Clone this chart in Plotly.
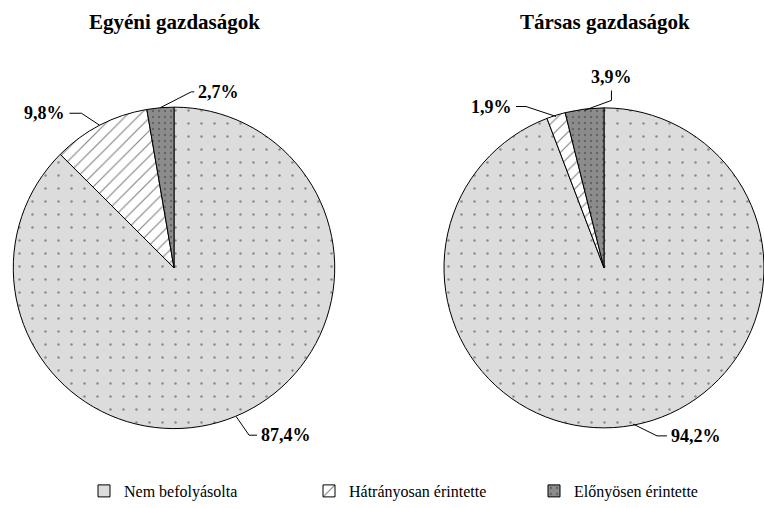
import math
import plotly.graph_objects as go

W, H = 764, 508

# ---- data ----
categories = ["Nem befolyásolta", "Hátrányosan érintette", "Előnyösen érintette"]
egyeni_values = [87.4, 9.8, 2.7]
tarsas_values = [94.2, 1.9, 3.9]
egyeni_text = ["87,4%", "9,8%", "2,7%"]
tarsas_text = ["94,2%", "1,9%", "3,9%"]
titles = ["Egyéni gazdaságok", "Társas gazdaságok"]

# ---- style ----
fill_colors = ["#dcdcdc", "#ffffff", "#8c8c8c"]
pattern = dict(
    shape=[".", "/", "."],
    fgcolor=["#3a3a3a", "#000000", "#3a3a3a"],
    size=[13, 9, 6],
    solidity=[0.03, 0.12, 0.12],
    fillmode="overlay",
)
FONT = "Liberation Serif"

# pie boxes in pixels (x0, x1, y0, y1)
boxes = [(12, 336, 108, 432), (444, 764, 108, 432)]
title_x = [174, 605]

# leader-line layout per slice: (elbow dx, elbow dy, tail dx, tail dy, xanchor, yanchor)
leaders = [
    [(13, 19, 8, 0, "left", "middle"),
     (-18, -12, -12, 0, "right", "middle"),
     (31, -16, 3, 0, "left", "middle")],
    [(24, 12, 10, 0, "left", "middle"),
     (-30, -10, -10, 0, "right", "middle"),
     (27, -10, 0, -10, "center", "bottom")],
]


def px2paper(x, y):
    return x / W, 1 - y / H


fig = go.Figure()
annotations = []
shapes = []

for k, (vals, texts) in enumerate([(egyeni_values, egyeni_text), (tarsas_values, tarsas_text)]):
    x0, x1, y0, y1 = boxes[k]
    fig.add_trace(go.Pie(
        labels=categories,
        values=vals,
        sort=False,
        direction="clockwise",
        rotation=0,
        textinfo="none",
        hoverinfo="label+percent",
        marker=dict(colors=fill_colors, pattern=pattern,
                    line=dict(color="#000000", width=1)),
        domain=dict(x=[x0 / W, x1 / W], y=[1 - y1 / H, 1 - y0 / H]),
        showlegend=(k == 0),
    ))
    cx, cy = (x0 + x1) / 2, (y0 + y1) / 2
    r = min(x1 - x0, y1 - y0) / 2
    total = sum(vals)
    cum = 0.0
    for i, v in enumerate(vals):
        frac = (cum + v / 2) / total
        cum += v
        th = 2 * math.pi * frac
        ax, ay = cx + r * math.sin(th), cy - r * math.cos(th)
        edx, edy, tdx, tdy, xa, ya = leaders[k][i]
        ex, ey = ax + edx, ay + edy
        tx, ty = ex + tdx, ey + tdy
        p = [px2paper(*pt) for pt in [(ax, ay), (ex, ey), (tx, ty)]]
        shapes.append(dict(
            type="path", xref="paper", yref="paper",
            path="M{:.5f},{:.5f} L{:.5f},{:.5f} L{:.5f},{:.5f}".format(
                p[0][0], p[0][1], p[1][0], p[1][1], p[2][0], p[2][1]),
            line=dict(color="#000000", width=1),
        ))
        gap = 2
        lx = tx + (gap if xa == "left" else -gap if xa == "right" else 0)
        ly = ty - (1 if ya == "bottom" else 0)
        qx, qy = px2paper(lx, ly)
        annotations.append(dict(
            x=qx, y=qy, xref="paper", yref="paper", showarrow=False,
            text="<b>" + texts[i] + "</b>", xanchor=xa, yanchor=ya,
            font=dict(family=FONT, size=18, color="#000000"),
        ))
    tx_, ty_ = px2paper(title_x[k], 22)
    annotations.append(dict(
        x=tx_, y=ty_, xref="paper", yref="paper", showarrow=False,
        text="<b>" + titles[k] + "</b>", xanchor="center", yanchor="middle",
        font=dict(family=FONT, size=21, color="#000000"),
    ))

lx, ly = px2paper(84, 495)
fig.update_layout(
    width=W, height=H,
    margin=dict(l=0, r=0, t=0, b=0),
    paper_bgcolor="#ffffff",
    plot_bgcolor="#ffffff",
    font=dict(family=FONT, color="#000000"),
    annotations=annotations,
    shapes=shapes,
    legend=dict(
        orientation="h", x=lx, y=ly, xanchor="left", yanchor="middle",
        font=dict(family=FONT, size=16, color="#000000"),
        entrywidth=180, entrywidthmode="pixels",
        bgcolor="rgba(0,0,0,0)",
    ),
)

fig.write_html("out.html", config={"displayModeBar": False},
               post_script="document.body.style.margin='0px';")
